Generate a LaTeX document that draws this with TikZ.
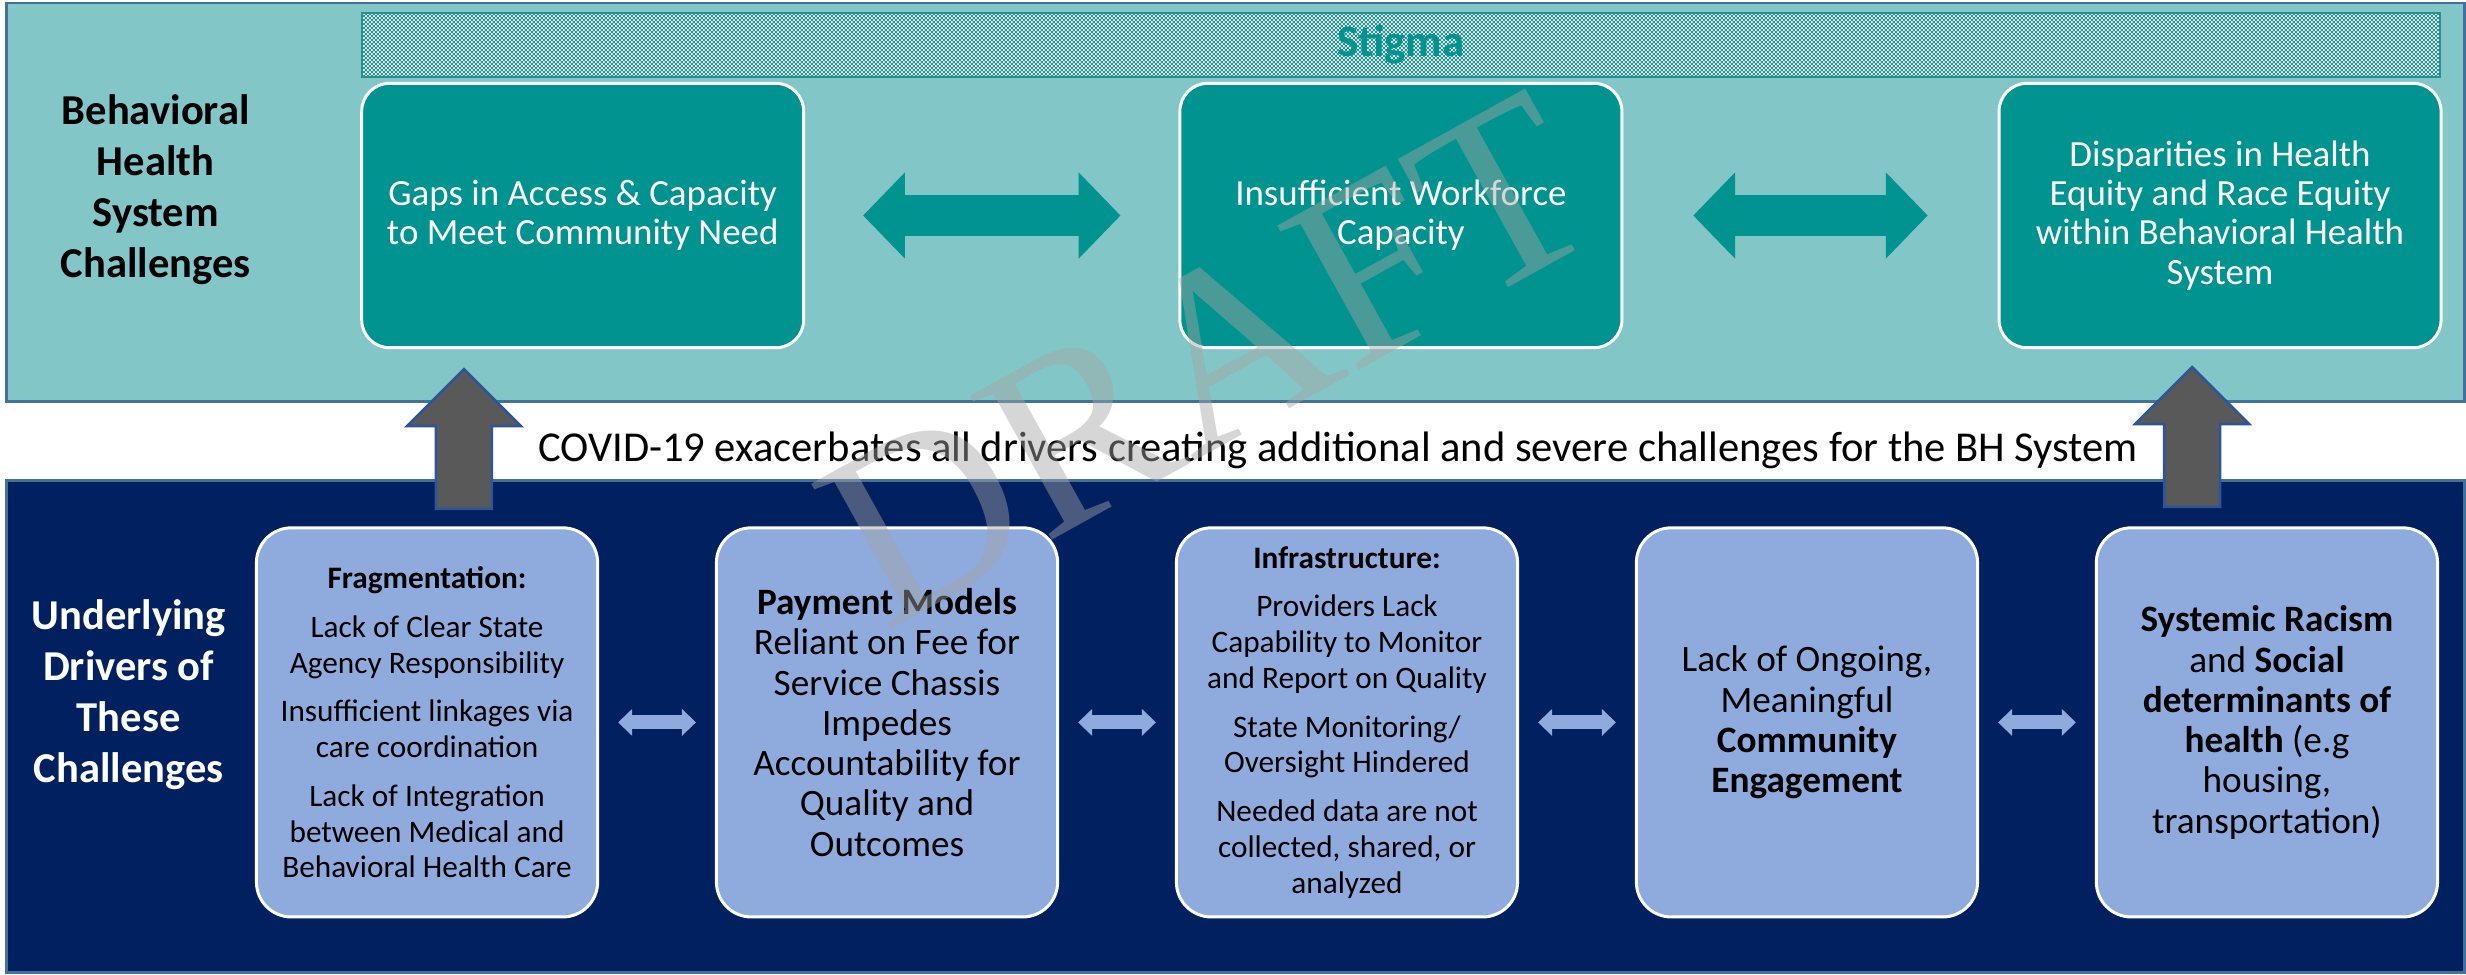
\documentclass[tikz,border=0pt]{standalone}
\usepackage{fontspec}
\setmainfont{Carlito}
\newfontfamily\wmfont{Liberation Serif}
\usetikzlibrary{arrows.meta,patterns}
\definecolor{PanelTeal}{HTML}{83C6C7}
\definecolor{BoxTeal}{HTML}{00938F}
\definecolor{StigTeal}{HTML}{2A8F8F}
\definecolor{StigBase}{HTML}{DDEEEE}
\definecolor{PanelEdge}{HTML}{41719C}
\definecolor{DrvNavy}{HTML}{002060}
\definecolor{DrvBlue}{HTML}{8FAADC}
\definecolor{ArrGray}{HTML}{595959}
\definecolor{ArrEdge}{HTML}{2F5597}
\definecolor{WmGray}{HTML}{A5A5A5}
% fine checker fill of the stigma bar
\pgfdeclarepatternformonly{checker}{\pgfpointorigin}{\pgfqpoint{1.2pt}{1.2pt}}{\pgfqpoint{1.2pt}{1.2pt}}{%
  \pgfpathrectangle{\pgfpointorigin}{\pgfqpoint{0.6pt}{0.6pt}}%
  \pgfpathrectangle{\pgfqpoint{0.6pt}{0.6pt}}{\pgfqpoint{0.6pt}{0.6pt}}%
  \pgfusepath{fill}}

\begin{document}
\begin{tikzpicture}[x=0.3pt,y=-0.3pt,
  panel/.style={draw=PanelEdge,line width=0.9pt},
  chbox/.style={rectangle,rounded corners=8.4pt,draw=white,line width=0.9pt,fill=BoxTeal,text=white,
    minimum width=132.9pt,minimum height=79.5pt,align=center,font=\fontsize{11.1}{11.8}\selectfont},
  drvbox/.style={rectangle,rounded corners=10.5pt,draw=white,line width=0.9pt,fill=DrvBlue,
    minimum width=102.6pt,minimum height=117pt,align=center,inner sep=2pt},
  drvsmall/.style={drvbox,font=\fontsize{9.4}{10.8}\selectfont},
  drvbig/.style={drvbox,font=\fontsize{11.2}{12.1}\selectfont},
  sidelbl/.style={align=center,font=\fontsize{12.8}{15.3}\selectfont\bfseries},
  stigbar/.style={rectangle,preaction={fill=StigBase},pattern=checker,pattern color=StigTeal,draw=StigTeal,
    line width=0.6pt,minimum width=624.6pt,minimum height=19.2pt,inner sep=0pt,text=BoxTeal,
    font=\fontsize{13.5}{16}\selectfont\bfseries},
  bigdbl/.style={draw=BoxTeal,line width=12.3pt,
    arrows={Triangle[length=12.6pt,width=25.2pt]-Triangle[length=12.6pt,width=25.2pt]}},
  smalldbl/.style={draw=DrvBlue,line width=4.2pt,shorten <=5.7pt,shorten >=5.7pt,
    arrows={Triangle[length=4.2pt,width=7.8pt]-Triangle[length=4.2pt,width=7.8pt]}},
  uparr/.style={fill=ArrGray,draw=ArrEdge,line width=0.8pt,line join=miter},
  wmark/.style={rotate=29,inner sep=0pt,text=WmGray,opacity=0.45,font=\wmfont\fontsize{76}{78}\selectfont}]

\path[fill=white] (0,0) rectangle (2466,969);

% the two panels
\draw[panel,fill=PanelTeal] (7,3) rectangle (2470,402);
\draw[panel,fill=DrvNavy] (7,482) rectangle (2470,975);

% challenges
\node[stigbar] (stigma) at (1404,45) {Stigma};
\node[sidelbl] (bhlbl) at (156,190) {Behavioral\\Health\\System\\Challenges};
\node[chbox] (tb1) at (584,216) {Gaps in Access \& Capacity\\to Meet Community Need};
\node[chbox] (tb2) at (1404,216) {Insufficient Workforce\\Capacity};
\node[chbox] (tb3) at (2225,216) {Disparities in Health\\Equity and Race Equity\\within Behavioral Health\\System};
\foreach \a/\b/\s in {tb1/tb2/17.4pt,tb2/tb3/21pt}
  \draw[bigdbl,shorten <=\s,shorten >=\s] (\a) -- (\b);

% covid band
\node[anchor=base,font=\fontsize{12.8}{15}\selectfont] (covid) at (1341,463)
  {COVID-19 exacerbates all drivers creating additional and severe challenges for the BH System};
\coordinate (up1) at (465,370);
\coordinate (up2) at (2197,368);
\foreach \c in {up1,up2}
  \draw[uparr] (\c) -- ++(57,57) -- ++(-29,0) -- ++(0,83) -- ++(-56,0) -- ++(0,-83) -- ++(-29,0) -- cycle;

% drivers
\node[sidelbl,text=white] (udlbl) at (129,696) {Underlying\\Drivers of\\These\\Challenges};
\node[drvsmall] (db1) at (428,724) {\textbf{Fragmentation:}\\[3.8pt]
  Lack of Clear State\\Agency Responsibility\\[3.8pt]
  Insufficient linkages via\\care coordination\\[3.8pt]
  Lack of Integration\\between Medical and\\Behavioral Health Care};
\node[drvbig] (db2) at (889,724) {\textbf{Payment Models}\\Reliant on Fee for\\Service Chassis\\Impedes\\Accountability for\\Quality and\\Outcomes};
\node[drvsmall] (db3) at (1350,724) {\textbf{Infrastructure:}\\[3.8pt]
  Providers Lack\\Capability to Monitor\\and Report on Quality\\[3.8pt]
  State Monitoring/\\Oversight Hindered\\[3.8pt]
  Needed data are not\\collected, shared, or\\analyzed};
\node[drvbig] (db4) at (1811,724) {Lack of Ongoing,\\Meaningful\\\textbf{Community}\\\textbf{Engagement}};
\node[drvbig] (db5) at (2272,724) {\textbf{Systemic Racism}\\and \textbf{Social}\\\textbf{determinants of}\\\textbf{health} (e.g\\housing,\\transportation)};
\foreach \a/\b in {db1/db2,db2/db3,db3/db4,db4/db5}
  \draw[smalldbl] (\a) -- (\b);

% watermark
\node[wmark] (draft) at (1210,360) {DRAFT};
\end{tikzpicture}
\end{document}
